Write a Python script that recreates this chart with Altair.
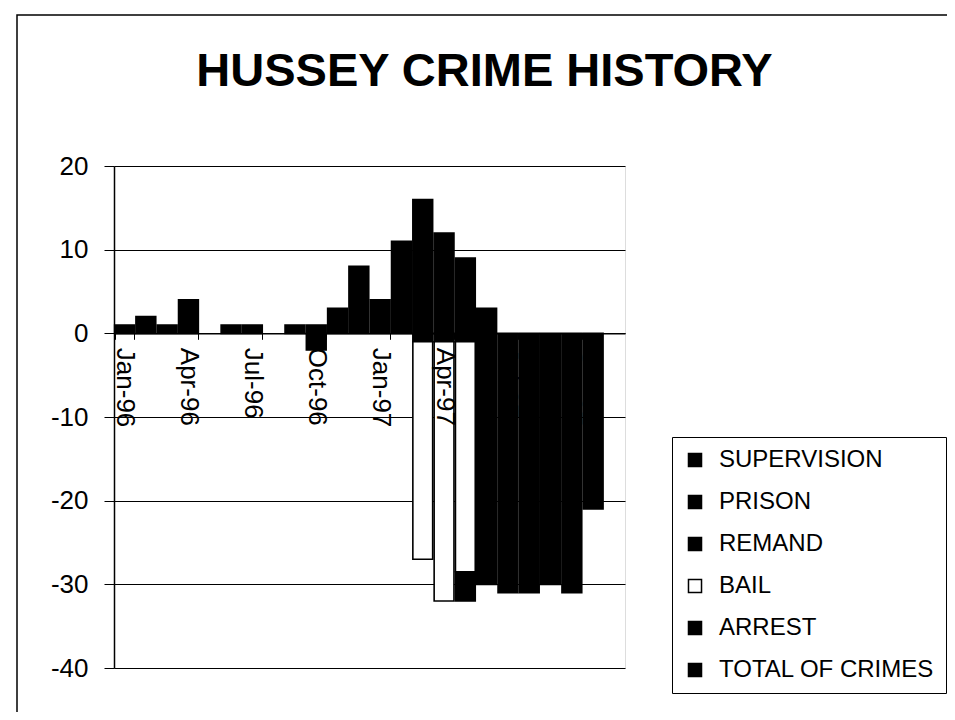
import altair as alt
import pandas as pd

months = ["Jan-96", "Feb-96", "Mar-96", "Apr-96", "May-96", "Jun-96",
          "Jul-96", "Aug-96", "Sep-96", "Oct-96", "Nov-96", "Dec-96",
          "Jan-97", "Feb-97", "Mar-97", "Apr-97", "May-97", "Jun-97",
          "Jul-97", "Aug-97", "Sep-97", "Oct-97", "Nov-97", "Dec-97"]

tick_months = ["Jan-96", "Apr-96", "Jul-96", "Oct-96", "Jan-97", "Apr-97", "Jul-97", "Oct-97"]
y_ticks = [20, 10, 0, -10, -20, -30, -40]

# stacking order (nearest the zero line first)
series = ["TOTAL OF CRIMES", "ARREST", "BAIL", "REMAND", "PRISON", "SUPERVISION"]
total_of_crimes = [1, 2, 1, 4, 0, 1, 1, 0, 1, 1, 3, 8, 4, 11, 16, 12, 9, 3, 0, 0, 0, 0, 0, 0]
arrest = [0, 0, 0, 0, 0, 0, 0, 0, 0, -2, 0, 0, 0, 0, -1, -1, -1, 0, 0, 0, 0, 0, 0, 0]
bail = [0, 0, 0, 0, 0, 0, 0, 0, 0, 0, 0, 0, 0, 0, -26, -31, -27.5, 0, 0, 0, 0, 0, 0, 0]
remand = [0, 0, 0, 0, 0, 0, 0, 0, 0, 0, 0, 0, 0, 0, 0, 0, -3.5, 0, 0, 0, 0, 0, 0, 0]
prison = [0, 0, 0, 0, 0, 0, 0, 0, 0, 0, 0, 0, 0, 0, 0, 0, 0, -30, -31, -31, -30, -31, 0, 0]
supervision = [0, 0, 0, 0, 0, 0, 0, 0, 0, 0, 0, 0, 0, 0, 0, 0, 0, 0, 0, 0, 0, 0, -21, 0]

legend_order = ["SUPERVISION", "PRISON", "REMAND", "BAIL", "ARREST", "TOTAL OF CRIMES"]
legend_colors = ["#000000", "#000000", "#000000", "#ffffff", "#000000", "#000000"]

all_vals = [total_of_crimes, arrest, bail, remand, prison, supervision]
rows = []
for i, m in enumerate(months):
    for k, (name, vals) in enumerate(zip(series, all_vals)):
        if vals[i] != 0:
            rows.append({"month": m, "series": name, "value": vals[i], "order": k})
df = pd.DataFrame(rows)

FONT = "Liberation Sans"

bars = alt.Chart(df).mark_bar(stroke="black", strokeWidth=1.6).encode(
    x=alt.X(
        "month:N",
        sort=months,
        scale=alt.Scale(domain=months, paddingInner=0.07, paddingOuter=0.03),
        axis=alt.Axis(
            values=tick_months, title=None, labelAngle=90, labelFontSize=26,
            labelFont=FONT, labelColor="black", tickColor="black", tickSize=6,
            tickBand="extent", domainColor="black", domainWidth=1.5,
            offset=-334.7, labelPadding=8, zindex=1, grid=False,
        ),
    ),
    y=alt.Y(
        "value:Q",
        stack="zero",
        scale=alt.Scale(domain=[-40, 20], nice=False),
        axis=alt.Axis(
            values=y_ticks, title=None, labelFontSize=26, labelFont=FONT,
            labelColor="black", tickColor="black", tickSize=10, labelPadding=16,
            labelExpr="'' + datum.value",
            domainColor="black", domainWidth=1.5, grid=True, gridColor="black",
            gridWidth=1.2, gridOpacity=1,
        ),
    ),
    color=alt.Color(
        "series:N",
        scale=alt.Scale(domain=legend_order, range=legend_colors),
        legend=alt.Legend(
            title=None, orient="none", legendX=558, legendY=271,
            labelFont=FONT, labelFontSize=24, labelColor="black",
            symbolType="square", symbolSize=170, symbolStrokeColor="black",
            symbolStrokeWidth=1.5, symbolOpacity=1, rowPadding=18,
            padding=11, strokeColor="black", fillColor="white",
            labelLimit=400, labelOffset=12,
        ),
    ),
    order=alt.Order("order:Q"),
)

frame = alt.Chart(pd.DataFrame({"a": [0]})).mark_rect(
    fill=None, stroke="black", strokeWidth=1.5
).encode(
    x=alt.value(-97), x2=alt.value(836), y=alt.value(-151), y2=alt.value(550)
)

chart = alt.layer(frame, bars).properties(
    width=511,
    height=502,
    padding={"left": 106, "top": 158, "right": 322, "bottom": 44},
    autosize="none",
    title=alt.Title(
        "HUSSEY CRIME HISTORY", fontSize=47, font=FONT, fontWeight="bold",
        anchor="middle", frame="group", dx=115, offset=-82, color="black",
    ),
).configure_view(stroke="black", strokeWidth=1.2).configure(background="white")

chart.save("out.html", embed_options={"renderer": "svg", "actions": False})
